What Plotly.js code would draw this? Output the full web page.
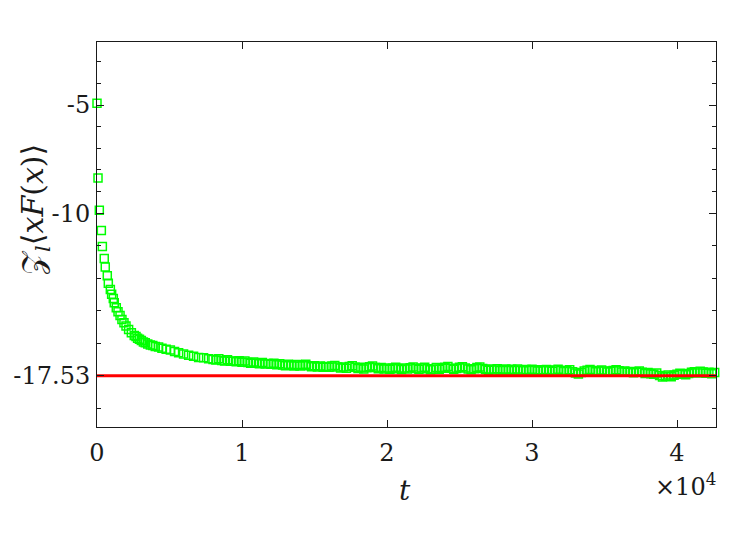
<!DOCTYPE html>
<html>
<head>
<meta charset="utf-8">
<script src="https://cdn.plot.ly/plotly-3.0.1.min.js"></script>
<style>html,body{margin:0;padding:0;background:#fff;}#chart{width:744px;height:558px;}</style>
</head>
<body>
<div id="chart"></div>
<script>
// time values
const tEarly = [0, 70, 160, 300, 370, 500, 570, 710, 780, 920, 1010, 1125, 1190, 1330, 1450, 1590, 1720, 1860, 2000, 2180, 2370, 2570, 2690, 2800, 2930, 3060, 3200, 3330, 3500, 3680, 3850, 4020, 4250, 4480, 4770, 5060, 5350, 5630, 5970, 6320, 6660, 7010, 7350, 7700];
const yEarly = [-4.92, -8.38, -9.87, -10.8, -11.55, -12.1, -12.5, -12.9, -13.25, -13.53, -13.76, -13.95, -14.15, -14.38, -14.57, -14.74, -14.92, -15.08, -15.23, -15.39, -15.54, -15.66, -15.71, -15.79, -15.84, -15.9, -15.96, -16.0, -16.06, -16.1, -16.13, -16.17, -16.2, -16.25, -16.3, -16.34, -16.4, -16.46, -16.52, -16.58, -16.63, -16.68, -16.7, -16.74];
const tLate = [8000,8200,8400,8600,8800,9000,9200,9400,9600,9800,
  10000,10200,10400,10600,10800,11000,11200,11400,11600,11800,
  12000,12200,12400,12600,12800,13000,13200,13400,13600,13800,
  14000,14200,14400,14600,14800,15000,15200,15400,15600,15800,
  16000,16200,16400,16600,16800,17000,17200,17400,17600,17800,
  18000,18200,18400,18600,18800,19000,19200,19400,19600,19800,
  20000,20200,20400,20600,20800,21000,21200,21400,21600,21800,
  22000,22200,22400,22600,22800,23000,23200,23400,23600,23800,
  24000,24200,24400,24600,24800,25000,25200,25400,25600,25800,
  26000,26200,26400,26600,26800,27000,27200,27400,27600,27800,
  28000,28200,28400,28600,28800,29000,29200,29400,29600,29800,
  30000,30200,30400,30600,30800,31000,31200,31400,31600,31800,
  32000,32200,32400,32600,32800,33000,33200,33400,33600,33800,
  34000,34200,34400,34600,34800,35000,35200,35400,35600,35800,
  36000,36200,36400,36600,36800,37000,37200,37400,37600,37800,
  38000,38200,38400,38600,38800,39000,39200,39400,39600,39800,
  40000,40200,40400,40600,40800,41000,41200,41400,41600,41800,
  42000,42200,42400,42600];
const yLate = [-16.77,-16.80,-16.74,-16.82,-16.85,-16.79,-16.86,-16.84,-16.88,-16.83,
  -16.90,-16.84,-16.92,-16.95,-16.89,-16.94,-16.97,-16.91,-16.98,-16.96,
  -17.00,-16.95,-17.02,-16.97,-17.03,-17.06,-17.00,-17.04,-17.08,-17.01,
  -17.08,-17.04,-17.00,-17.06,-17.11,-17.07,-17.12,-17.08,-17.14,-17.10,
  -17.14,-17.08,-17.05,-17.12,-17.17,-17.12,-17.18,-17.10,-17.07,-17.14,
  -17.19,-17.14,-17.21,-17.16,-17.11,-17.08,-17.15,-17.20,-17.15,-17.22,
  -17.17,-17.23,-17.18,-17.13,-17.20,-17.24,-17.17,-17.22,-17.16,-17.12,
  -17.19,-17.23,-17.17,-17.14,-17.20,-17.25,-17.21,-17.15,-17.23,-17.18,
  -17.13,-17.10,-17.18,-17.23,-17.19,-17.14,-17.11,-17.17,-17.22,-17.25,
  -17.20,-17.15,-17.12,-17.19,-17.24,-17.27,-17.21,-17.26,-17.20,-17.28,
  -17.25,-17.21,-17.29,-17.23,-17.28,-17.22,-17.26,-17.30,-17.24,-17.29,
  -17.23,-17.27,-17.31,-17.25,-17.30,-17.24,-17.28,-17.32,-17.26,-17.23,
  -17.28,-17.33,-17.29,-17.25,-17.34,-17.40,-17.45,-17.38,-17.31,-17.27,
  -17.24,-17.29,-17.34,-17.30,-17.26,-17.31,-17.36,-17.32,-17.28,-17.25,
  -17.30,-17.35,-17.31,-17.37,-17.33,-17.39,-17.34,-17.31,-17.37,-17.42,
  -17.38,-17.43,-17.46,-17.40,-17.52,-17.58,-17.55,-17.49,-17.57,-17.50,
  -17.46,-17.41,-17.44,-17.48,-17.42,-17.37,-17.34,-17.40,-17.32,-17.36,
  -17.41,-17.37,-17.43,-17.38];
const refValue = -17.53;
const refT = [0, 42690];
const xTickVals = [0, 10000, 20000, 30000, 40000];
const xTickText = ['0', '1', '2', '3', '4'];
const yTickVals = [-17.53, -10, -5];
const yTickText = ['-17.53', '-10', '-5'];
const yMinorVals = [-19.036, -16.024, -14.518, -13.012, -11.506, -9, -8, -7, -6, -4, -3];

const tAll = tEarly.concat(tLate);
const yAll = yEarly.concat(yLate);

const font = '"DejaVu Serif", "Liberation Serif", serif';
const fontC = '#1a1a1a';

const traces = [
  {
    x: tAll, y: yAll, type: 'scatter', mode: 'markers', cliponaxis: false,
    marker: {symbol: 'square-open', size: 8, color: 'rgb(0,255,0)', line: {width: 1.5, color: 'rgb(0,255,0)'}},
    hoverinfo: 'skip', showlegend: false
  },
  {
    x: refT, y: [refValue, refValue], type: 'scatter', mode: 'lines',
    line: {color: 'rgb(255,0,0)', width: 3},
    hoverinfo: 'skip', showlegend: false
  }
];

const layout = {
  width: 744, height: 558,
  margin: {l: 97, r: 28, t: 42, b: 131},
  paper_bgcolor: '#fff', plot_bgcolor: '#fff',
  showlegend: false,
  font: {family: font, size: 24, color: fontC},
  xaxis: {
    range: [0, 42690], tickmode: 'array', tickvals: xTickVals, ticktext: xTickText,
    ticks: 'inside', ticklen: 7, tickwidth: 1, tickcolor: fontC,
    showline: true, linecolor: fontC, linewidth: 1, mirror: 'allticks',
    showgrid: false, zeroline: false, ticklabelstandoff: 4,
    tickfont: {family: font, size: 24, color: fontC}
  },
  yaxis: {
    range: [-19.9, -2.08], tickmode: 'array', tickvals: yTickVals, ticktext: yTickText,
    ticks: 'inside', ticklen: 7, tickwidth: 1, tickcolor: fontC,
    minor: {tickmode: 'array', tickvals: yMinorVals, ticks: 'inside', ticklen: 4, tickcolor: fontC, showgrid: false},
    showline: true, linecolor: fontC, linewidth: 1, mirror: 'allticks',
    showgrid: false, zeroline: false, ticklabelstandoff: 1,
    tickfont: {family: font, size: 24, color: fontC}
  },
  annotations: [
    {text: '<i>t</i>', xref: 'paper', yref: 'paper', x: 0.498, y: -0.164, xanchor: 'center', yanchor: 'middle', showarrow: false, font: {family: font, size: 28, color: fontC}},
    {text: '×10<sup>4</sup>', xref: 'paper', yref: 'paper', x: 0.95, y: -0.15, xanchor: 'center', yanchor: 'middle', showarrow: false, font: {family: font, size: 24, color: fontC}},
    {text: '𝒵<sub><i>l</i></sub>⟨<i>xF</i>(<i>x</i>)⟩', xref: 'paper', yref: 'paper', x: -0.1, y: 0.564, xanchor: 'center', yanchor: 'middle', textangle: -90, showarrow: false, font: {family: font, size: 30, color: fontC}}
  ]
};

Plotly.newPlot('chart', traces, layout, {staticPlot: true, displayModeBar: false});
</script>
</body>
</html>
